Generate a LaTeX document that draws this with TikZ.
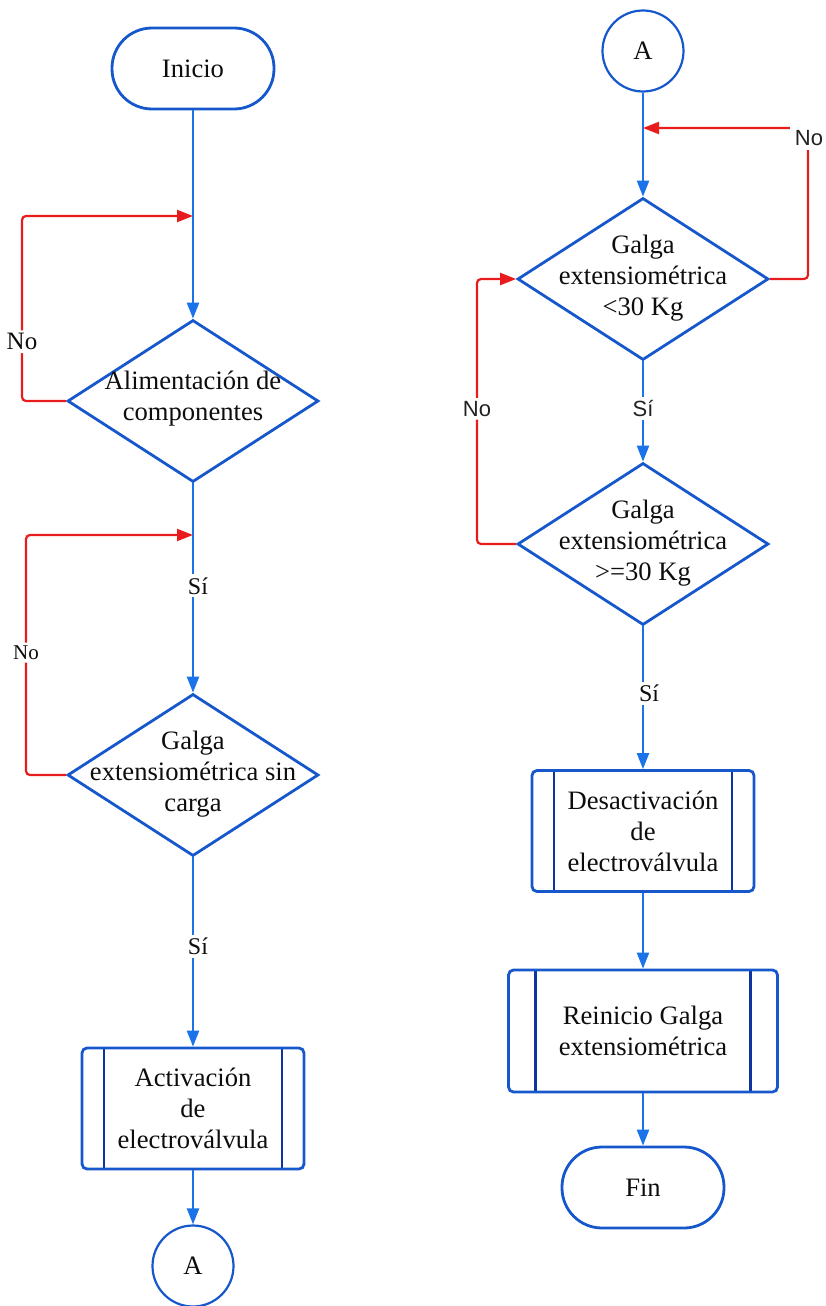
\documentclass[tikz,border=0pt]{standalone}
\usepackage{fontspec}
\setmainfont{Liberation Serif}
\setsansfont{Liberation Sans}
\usetikzlibrary{arrows.meta,shapes.geometric}
\definecolor{shapeblue}{RGB}{22,88,204}
\definecolor{lineblue}{RGB}{26,115,232}
\definecolor{barblue}{RGB}{14,52,160}
\definecolor{backred}{RGB}{232,28,28}
\definecolor{txtgray}{RGB}{34,34,34}
\begin{document}
\begin{tikzpicture}[x=1pt,y=-1pt,
    every node/.style={font=\fontsize{26.6}{31}\selectfont,text=black!95},
    term/.style={draw=shapeblue,line width=2.8pt,rounded corners=40pt,minimum width=162pt,minimum height=81pt},
    decision/.style={draw=shapeblue,line width=2.8pt,diamond,minimum width=251pt,minimum height=162pt,inner sep=0pt},
    dtext/.style={align=center,inner sep=0pt},
    subproc/.style={draw=shapeblue,line width=2.8pt,rounded corners=5pt,minimum width=222pt,minimum height=121pt,align=center,
      path picture={\draw[barblue,line width=2.8pt]
        ([xshift=#1]path picture bounding box.north west) -- ([xshift=#1]path picture bounding box.south west)
        ([xshift=-#1]path picture bounding box.north east) -- ([xshift=-#1]path picture bounding box.south east);}},
    subproc/.default=22pt,
    conn/.style={draw=shapeblue,line width=2.2pt,circle,minimum size=81pt,inner sep=0pt},
    flow/.style={draw=lineblue,line width=2.2pt,-{Triangle[length=16pt,width=12pt]}},
    goback/.style={draw=backred,line width=2.2pt,rounded corners=4pt,-{Triangle[length=16pt,width=12pt]}},
    yes/.style={fill=white,inner sep=3pt,font=\fontsize{24}{28}\selectfont},
    yessans/.style={fill=white,inner sep=3pt,font=\sffamily\fontsize{22}{26}\selectfont,text=txtgray},
    nolbl/.style={fill=white,inner sep=3pt,font=\fontsize{25}{29}\selectfont},
    nosans/.style={fill=white,inner sep=3pt,font=\sffamily\fontsize{22}{26}\selectfont,text=txtgray}
  ]
      \useasboundingbox (0,0) rectangle (826,1306);
      \node[term] (0) at (193,68.5) {Inicio};
      \node[decision] (1) at (193,401) {};
      \node[dtext] (t1) at (193,399) {Alimentación de\\componentes};
      \node[decision] (2) at (193,775) {};
      \node[dtext] (t2) at (193,774) {Galga\\extensiométrica sin\\carga};
      \node[subproc] (3) at (193,1108.5) {Activación\\de\\electroválvula};
      \node[conn] (4) at (193,1266) {A};
      \node[conn] (5) at (643,51) {A};
      \node[decision] (6) at (643,279) {};
      \node[dtext] (t6) at (643,278) {Galga\\extensiométrica\\<30 Kg};
      \node[decision] (7) at (643,544) {};
      \node[dtext] (t7) at (643,543) {Galga\\extensiométrica\\>=30 Kg};
      \node[subproc] (8) at (643,831) {Desactivación\\de\\electroválvula};
      \node[subproc=27pt,minimum width=269pt,minimum height=122pt] (9) at (643,1031) {Reinicio Galga\\extensiométrica};
      \node[term] (10) at (643,1187.5) {Fin};
      \coordinate (j1) at (193,216);
      \coordinate (j2) at (193,535);
      \coordinate (j3) at (643,128);
      \begin{scope}[flow]
        \draw (0) -- (1);
        \draw (1) -- node[yes,pos=0.49,xshift=5pt]{Sí} (2);
        \draw (2) -- node[yes,pos=0.47,xshift=5pt]{Sí} (3);
        \draw (3) -- (4);
        \draw (5) -- (6);
        \draw (6) -- node[yessans,pos=0.47]{Sí} (7);
        \draw (7) -- node[yes,pos=0.47,xshift=6pt]{Sí} (8);
        \draw (8) -- (9);
        \draw (9) -- (10);
      \end{scope}
      \begin{scope}[goback]
        \draw (1.west) -- (22,401) -- node[nolbl,pos=0.32]{No} (22,216) -- (j1);
        \draw (2.west) -- (26,775) -- node[nolbl,pos=0.51,font=\fontsize{21}{25}\selectfont]{No} (26,535) -- (j2);
        \draw (6.east) -- (808,279) -- (808,128) -- (j3);
        \draw (7.west) -- (477,544) -- node[nosans,pos=0.51]{No} (477,279) -- (6.west);
      \end{scope}
      \node[nosans,inner sep=4.5pt] (n3) at (809,138) {No};
    \end{tikzpicture}
\end{document}
